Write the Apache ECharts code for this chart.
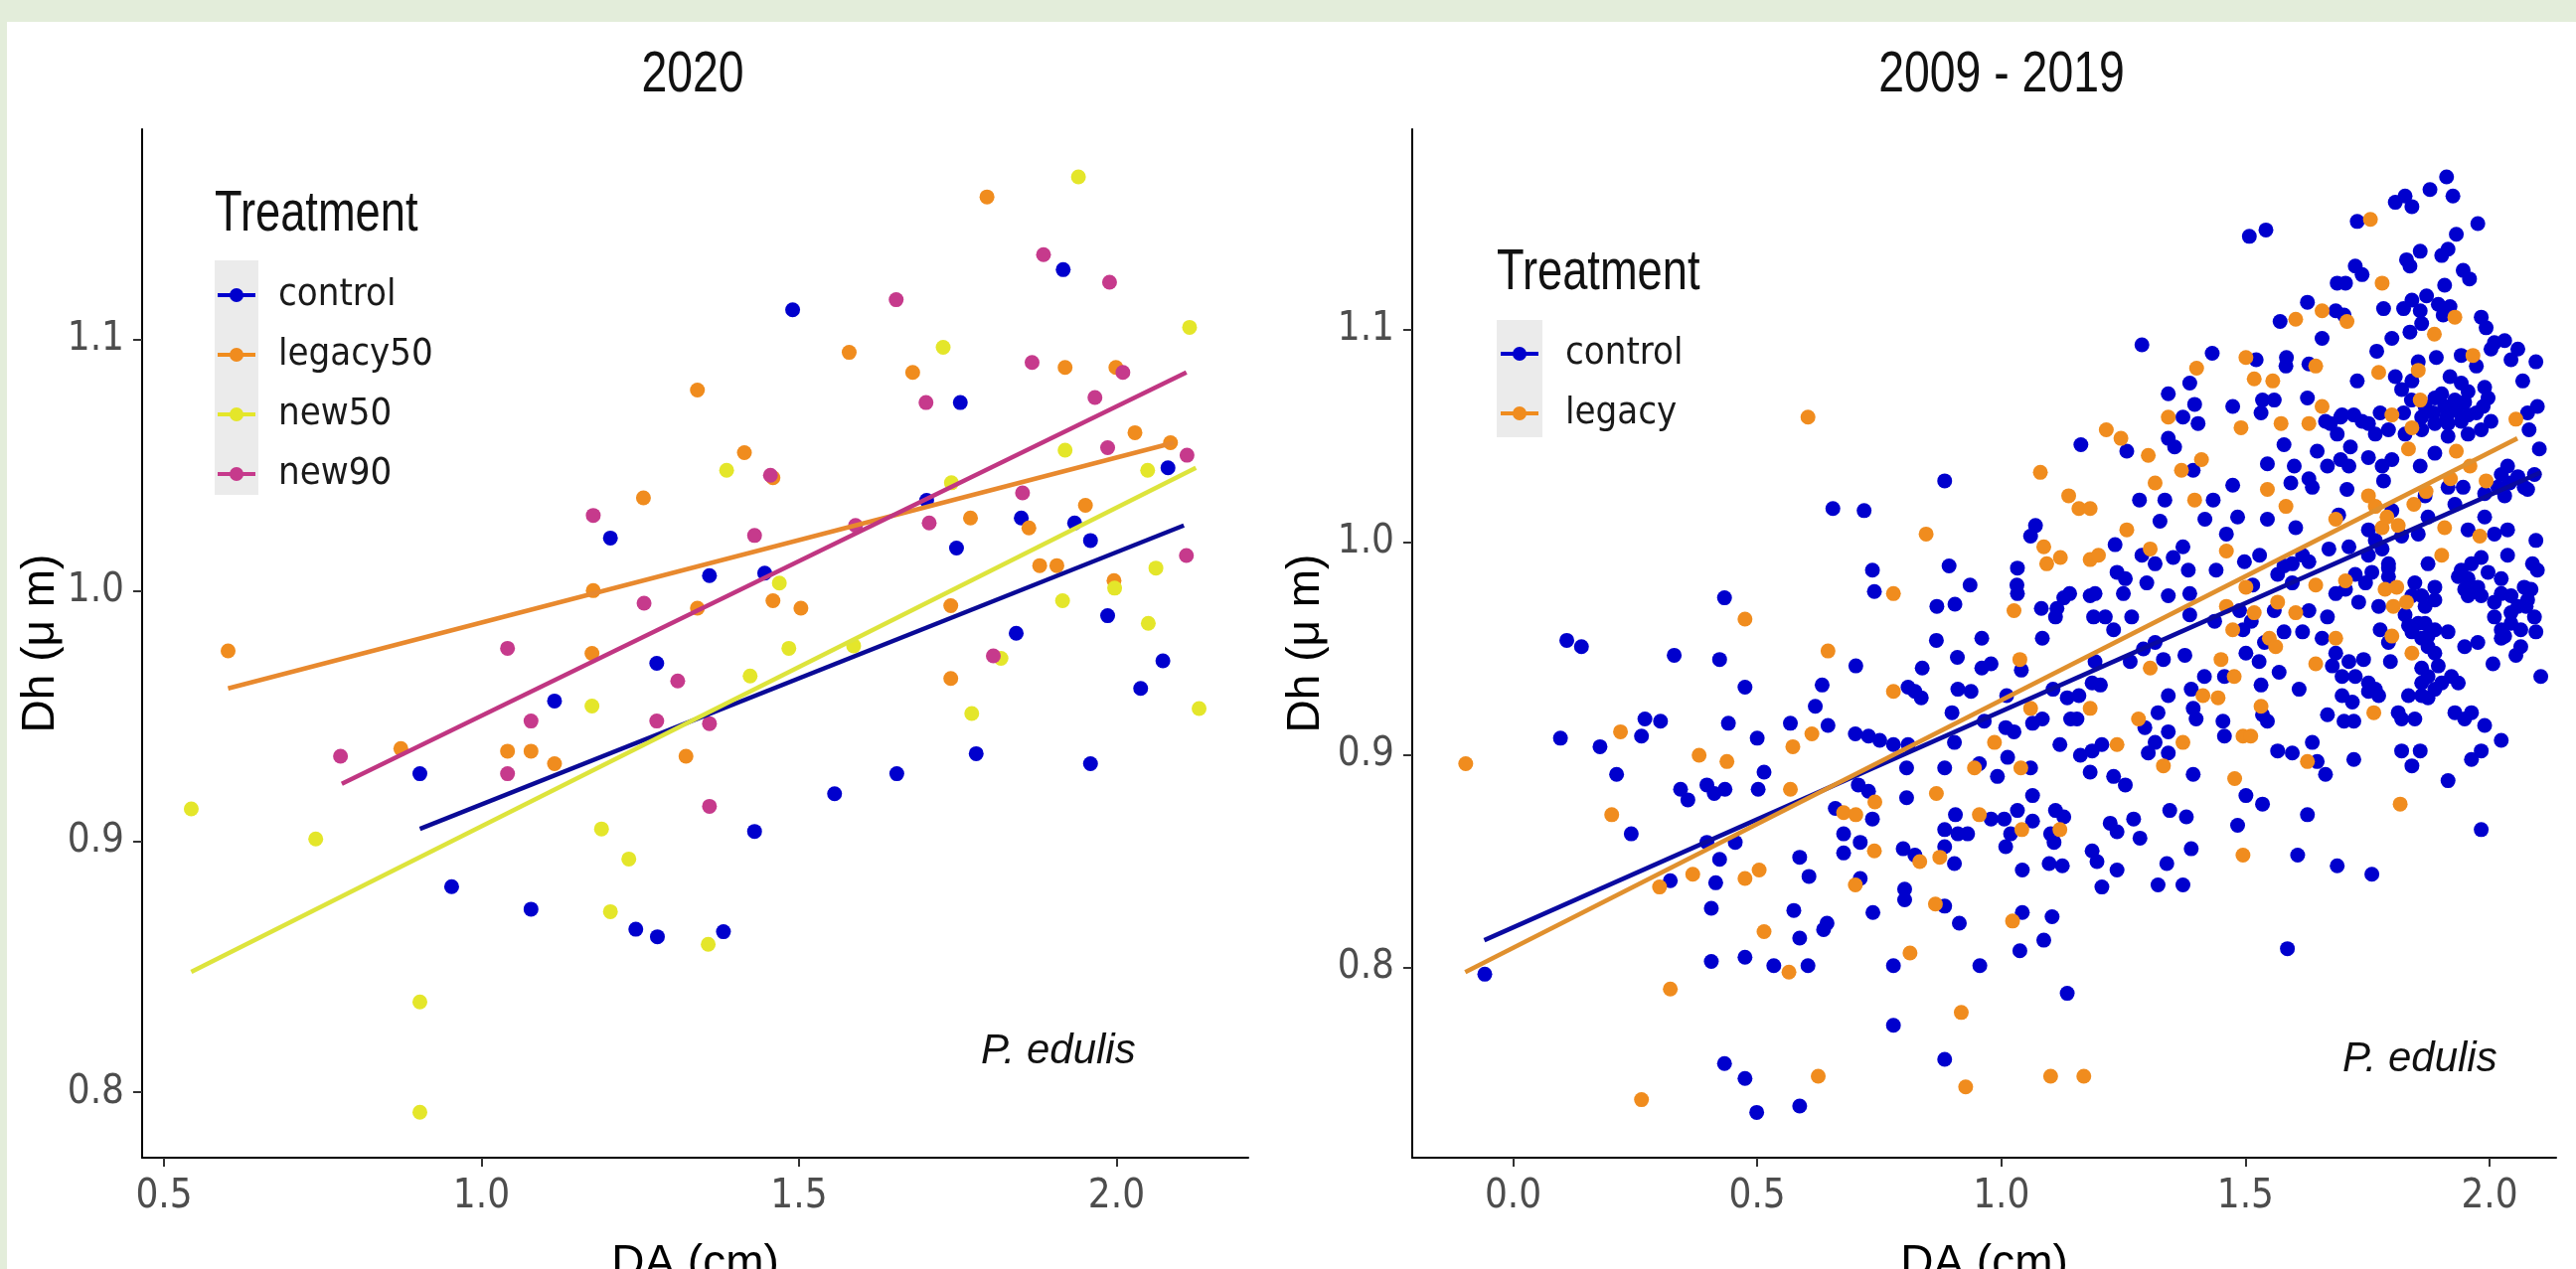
<!DOCTYPE html>
<html>
<head>
<meta charset="utf-8">
<script src="https://cdn.jsdelivr.net/npm/echarts@6/dist/echarts.min.js"></script>
<style>
html,body{margin:0;padding:0;background:#E3EDDA;}
#chart{width:2592px;height:1277px;}
</style>
</head>
<body>
<div id="chart"></div>
<script>
// ---------- tick labels ----------
const leftXTicks = [0.5, 1.0, 1.5, 2.0];
const leftYTicks = [0.8, 0.9, 1.0, 1.1];
const rightXTicks = [0.0, 0.5, 1.0, 1.5, 2.0];
const rightYTicks = [0.8, 0.9, 1.0, 1.1];

// ---------- panel 2020 ----------
const leftNames = ['control', 'legacy50', 'new50', 'new90'];
const leftControl = [[0.903,0.927],[0.953,0.882],[1.078,0.873],[1.115,0.956],[1.203,1.021],[1.243,0.865],[1.276,0.971],[1.277,0.862],[1.359,1.006],[1.381,0.864],[1.430,0.904],[1.446,1.007],[1.490,1.112],[1.556,0.919],[1.654,0.927],[1.701,1.036],[1.748,1.017],[1.754,1.075],[1.779,0.935],[1.842,0.983],[1.850,1.029],[1.916,1.128],[1.934,1.027],[1.959,1.020],[1.959,0.931],[1.986,0.990],[2.038,0.961],[2.073,0.972],[2.081,1.049]];
const leftLegacy50 = [[0.601,0.976],[0.873,0.937],[1.041,0.936],[1.078,0.936],[1.115,0.931],[1.174,0.975],[1.176,1.000],[1.255,1.037],[1.322,0.934],[1.340,1.080],[1.340,0.993],[1.414,1.055],[1.459,1.045],[1.459,0.996],[1.503,0.993],[1.579,1.095],[1.679,1.087],[1.739,0.994],[1.739,0.965],[1.770,1.029],[1.796,1.157],[1.862,1.025],[1.879,1.010],[1.906,1.010],[1.919,1.089],[1.951,1.034],[1.996,1.004],[1.999,1.089],[2.029,1.063],[2.085,1.059]];
const leftNew50 = [[0.543,0.913],[0.739,0.901],[0.903,0.836],[0.903,0.792],[1.174,0.954],[1.189,0.905],[1.203,0.872],[1.232,0.893],[1.357,0.859],[1.386,1.048],[1.423,0.966],[1.469,1.003],[1.484,0.977],[1.586,0.978],[1.727,1.097],[1.740,1.043],[1.772,0.951],[1.818,0.973],[1.915,0.996],[1.919,1.056],[1.940,1.165],[1.997,1.001],[2.049,1.048],[2.050,0.987],[2.062,1.009],[2.115,1.105],[2.130,0.953]];
const leftNew90 = [[0.778,0.934],[1.041,0.977],[1.041,0.927],[1.078,0.948],[1.176,1.030],[1.256,0.995],[1.276,0.948],[1.309,0.964],[1.359,0.947],[1.359,0.914],[1.430,1.022],[1.455,1.046],[1.589,1.026],[1.653,1.116],[1.700,1.075],[1.705,1.027],[1.806,0.974],[1.852,1.039],[1.867,1.091],[1.885,1.134],[1.966,1.077],[1.986,1.057],[1.989,1.123],[2.010,1.087],[2.110,1.014],[2.111,1.054]];
const leftFitControl = [[0.903,0.905],[2.106,1.026]];
const leftFitLegacy50 = [[0.601,0.961],[2.090,1.059]];
const leftFitNew50 = [[0.543,0.848],[2.125,1.049]];
const leftFitNew90 = [[0.780,0.923],[2.110,1.087]];

// ---------- panel 2009 - 2019 ----------
const rightNames = ['control', 'legacy'];
const rightControlA = [[0.433,0.974],[0.423,0.945],[0.330,0.947],[0.475,0.932],[0.110,0.954],[0.140,0.951],[0.441,0.915],[0.500,0.908],[0.097,0.908],[0.178,0.904],[0.270,0.917],[0.302,0.916],[0.263,0.909],[0.212,0.891],[0.343,0.884],[0.358,0.879],[0.397,0.886],[0.412,0.882],[0.434,0.884],[0.514,0.892],[0.502,0.884],[0.242,0.863],[0.397,0.859],[0.455,0.859],[0.423,0.851],[0.322,0.841],[0.415,0.840],[0.406,0.828],[0.406,0.803],[0.475,0.805],[0.534,0.801],[-0.058,0.797],[0.433,0.755],[0.475,0.748],[0.499,0.732]];
const rightControlB = [[1.163,1.046],[1.257,1.043],[1.283,1.020],[0.884,1.029],[0.655,1.016],[0.719,1.015],[1.070,1.008],[1.060,1.003],[0.736,0.987],[0.740,0.977],[0.893,0.989],[0.936,0.980],[1.033,0.988],[1.032,0.980],[1.033,0.976],[0.868,0.970],[0.905,0.971],[1.082,0.969],[1.114,0.969],[1.128,0.974],[1.140,0.976],[1.111,0.965],[1.182,0.975],[1.192,0.976],[1.189,0.965],[1.213,0.965],[1.230,0.959],[1.267,0.965],[1.233,0.999],[1.237,0.986],[1.254,0.983],[1.250,0.976],[0.867,0.954],[0.960,0.955],[1.084,0.955],[0.702,0.942],[0.910,0.946],[0.960,0.941],[0.979,0.943],[0.838,0.941],[1.041,0.940],[0.633,0.933],[0.809,0.932],[0.823,0.930],[0.836,0.927],[0.911,0.931],[0.938,0.930],[0.619,0.923],[0.568,0.915],[0.645,0.914],[0.899,0.920],[1.011,0.928],[1.106,0.931],[1.135,0.927],[1.159,0.928],[1.186,0.934],[1.203,0.933],[1.192,0.944],[1.264,0.944],[1.291,0.950],[0.701,0.910],[0.728,0.909],[0.751,0.907],[0.779,0.905],[0.809,0.905],[0.904,0.906],[0.965,0.916],[1.009,0.913],[1.026,0.911],[1.064,0.915],[1.084,0.917],[1.142,0.917],[1.155,0.917],[1.120,0.905],[1.162,0.900],[1.186,0.902],[1.206,0.905],[1.182,0.892],[0.806,0.894],[0.884,0.894],[0.955,0.896],[1.013,0.899],[0.992,0.890],[1.060,0.894],[1.230,0.890],[1.254,0.886],[0.707,0.886],[0.728,0.883]];
const rightControlC = [[0.806,0.880],[0.660,0.875],[0.736,0.870],[0.906,0.872],[1.064,0.881],[0.979,0.870],[1.006,0.870],[1.033,0.874],[1.064,0.869],[1.111,0.874],[1.128,0.871],[1.223,0.868],[1.271,0.870],[1.284,0.861],[0.884,0.865],[0.911,0.863],[0.931,0.863],[1.019,0.863],[1.101,0.863],[1.237,0.864],[0.677,0.863],[0.711,0.859],[0.677,0.854],[0.799,0.856],[0.823,0.853],[0.884,0.857],[0.904,0.849],[1.009,0.857],[1.108,0.859],[1.186,0.855],[1.196,0.850],[1.237,0.846],[1.098,0.849],[1.125,0.848],[1.043,0.846],[0.587,0.852],[0.606,0.843],[0.711,0.842],[0.802,0.837],[0.802,0.832],[1.206,0.838],[0.884,0.829],[0.914,0.821],[0.737,0.826],[0.575,0.827],[0.643,0.821],[0.636,0.818],[1.043,0.826],[1.104,0.824],[0.587,0.814],[1.087,0.813],[1.038,0.808],[0.604,0.801],[0.779,0.801],[0.956,0.801],[1.135,0.788],[0.779,0.773],[0.884,0.757],[0.587,0.735]];
const rightControlD = [[1.912,1.172],[1.925,1.163],[1.878,1.166],[1.807,1.160],[1.827,1.163],[1.841,1.158],[1.729,1.151],[1.976,1.150],[1.508,1.144],[1.542,1.147],[1.932,1.145],[1.915,1.138],[1.902,1.135],[1.858,1.137],[1.830,1.133],[1.837,1.130],[1.725,1.130],[1.739,1.126],[1.688,1.122],[1.705,1.122],[1.946,1.128],[1.959,1.124],[1.908,1.121],[1.627,1.113],[1.685,1.109],[1.702,1.107],[1.783,1.110],[1.824,1.110],[1.841,1.114],[1.871,1.116],[1.858,1.109],[1.895,1.112],[1.919,1.111],[1.905,1.107],[1.861,1.103],[1.837,1.099],[1.800,1.096],[1.571,1.104],[1.657,1.096],[1.983,1.106],[1.993,1.101],[2.010,1.094],[2.031,1.095],[2.058,1.091],[2.044,1.086],[2.095,1.085],[2.068,1.076],[2.003,1.091],[1.288,1.093],[1.432,1.089],[1.522,1.086],[1.584,1.087],[1.583,1.083],[1.630,1.084],[1.769,1.090],[1.854,1.085],[1.891,1.087],[1.942,1.088],[1.973,1.083],[1.729,1.076],[1.807,1.078],[1.919,1.078],[1.942,1.075],[1.956,1.071],[1.990,1.073],[1.997,1.068],[1.386,1.075],[1.342,1.070],[1.396,1.065],[1.474,1.064],[1.535,1.067],[1.559,1.067],[1.627,1.068],[1.820,1.072],[1.840,1.067],[1.888,1.068],[1.908,1.064],[1.949,1.066],[1.987,1.064],[2.098,1.064],[2.078,1.061],[1.372,1.059],[1.403,1.056],[1.532,1.061],[1.664,1.057],[1.695,1.059],[1.722,1.060],[1.752,1.056],[1.776,1.061],[1.824,1.061],[1.861,1.059],[1.885,1.061],[1.912,1.059],[1.932,1.062],[1.973,1.061],[2.003,1.057],[2.081,1.053],[2.102,1.044],[1.342,1.049],[1.355,1.045],[1.579,1.046],[1.647,1.043],[1.674,1.056],[1.688,1.051],[1.715,1.045],[1.766,1.051],[1.793,1.053],[1.827,1.051],[1.861,1.053],[1.888,1.056],[1.915,1.050],[1.956,1.051],[1.983,1.053],[1.393,1.034],[1.474,1.027],[1.545,1.037],[1.600,1.036],[1.630,1.030],[1.668,1.036],[1.695,1.039],[1.712,1.036],[1.752,1.040],[1.780,1.036],[1.800,1.039],[1.858,1.036],[1.888,1.042],[1.946,1.026],[2.024,1.032],[2.041,1.028],[2.071,1.026],[1.335,1.020],[1.434,1.020],[1.593,1.028],[1.637,1.026],[1.708,1.025],[1.783,1.029],[1.868,1.022],[1.915,1.026],[1.990,1.023],[2.017,1.026]];
const rightControlE = [[1.325,1.010],[1.417,1.011],[1.484,1.012],[1.461,1.004],[1.545,1.011],[1.603,1.007],[1.691,1.013],[1.752,1.006],[1.800,1.015],[1.820,1.003],[1.854,1.004],[1.874,1.012],[1.929,1.018],[1.990,1.012],[1.956,1.006],[2.010,1.004],[2.037,1.006],[2.095,1.001],[1.288,0.994],[1.372,0.998],[1.352,0.993],[1.315,0.990],[1.383,0.987],[1.440,0.987],[1.498,0.991],[1.529,0.994],[1.579,0.989],[1.630,0.991],[1.671,0.997],[1.712,0.998],[1.752,0.994],[1.793,0.990],[1.874,0.990],[1.963,0.990],[1.983,0.993],[2.037,0.994],[2.088,0.990],[2.098,0.987],[1.298,0.981],[1.342,0.975],[1.386,0.976],[1.515,0.980],[1.566,0.985],[1.596,0.981],[1.685,0.976],[1.725,0.985],[1.746,0.981],[1.793,0.984],[1.847,0.981],[1.888,0.979],[1.936,0.984],[1.949,0.978],[1.997,0.986],[2.024,0.983],[2.071,0.979],[2.078,0.973],[1.386,0.966],[1.437,0.963],[1.488,0.968],[1.512,0.963],[1.559,0.968],[1.630,0.968],[1.668,0.965],[1.732,0.972],[1.773,0.970],[1.827,0.966],[1.868,0.970],[1.888,0.973],[1.956,0.975],[2.010,0.965],[2.044,0.967],[2.075,0.970],[2.092,0.965],[2.024,0.959],[2.095,0.958],[1.315,0.953],[1.332,0.945],[1.376,0.947],[1.495,0.959],[1.539,0.953],[1.579,0.958],[1.617,0.958],[1.657,0.955],[1.685,0.948],[1.712,0.944],[1.742,0.945],[1.776,0.959],[1.793,0.953],[1.841,0.958],[1.868,0.962],[1.874,0.951],[1.915,0.958],[1.888,0.948],[1.949,0.951],[1.976,0.953],[2.024,0.955],[2.064,0.951],[2.054,0.947],[2.007,0.943],[2.105,0.937],[1.501,0.948],[1.528,0.944],[1.569,0.939],[1.610,0.931],[1.457,0.937],[1.416,0.937],[1.389,0.931],[1.342,0.928],[1.532,0.933],[1.678,0.942],[1.725,0.937],[1.752,0.934],[1.773,0.928],[1.797,0.944],[1.861,0.941],[1.895,0.942],[1.922,0.937],[1.936,0.934],[1.861,0.934],[1.834,0.928],[1.874,0.927],[1.393,0.922],[1.321,0.920],[1.294,0.913],[1.342,0.911],[1.399,0.917],[1.454,0.916],[1.535,0.919],[1.545,0.916],[1.698,0.928],[1.719,0.925],[1.668,0.919],[1.702,0.916],[1.722,0.916],[1.813,0.920],[1.820,0.917],[1.847,0.917],[1.929,0.920],[1.949,0.917],[1.963,0.920],[1.990,0.914],[2.024,0.907],[1.457,0.909],[1.315,0.906],[1.342,0.901],[1.301,0.901],[1.566,0.902],[1.596,0.901],[1.637,0.906],[1.664,0.891],[1.647,0.897],[1.722,0.898],[1.820,0.902],[1.858,0.902],[1.841,0.895],[1.983,0.902],[1.963,0.898],[1.393,0.891],[1.915,0.888],[1.501,0.881],[1.535,0.877],[1.345,0.874],[1.379,0.871],[1.627,0.872],[1.484,0.867],[1.983,0.865],[1.389,0.856],[1.607,0.853],[1.339,0.849],[1.688,0.848],[1.759,0.844],[1.321,0.839],[1.372,0.839],[1.586,0.809]];
const rightControlF = [[1.841,0.975],[1.861,0.975],[1.854,0.962],[1.834,0.961],[1.874,0.956],[1.888,0.959],[1.861,0.955],[2.024,0.976],[2.044,0.975],[2.058,0.970],[2.044,0.962],[2.064,0.959],[2.085,0.978],[2.010,0.972],[2.031,0.956],[1.956,0.983],[1.976,0.979],[1.942,0.987],[1.983,0.975],[1.766,1.001],[1.780,0.997],[1.793,0.988],[1.759,0.986],[1.874,0.937],[1.888,0.931],[1.861,0.928],[1.902,0.934],[1.698,0.937],[1.752,0.930],[1.766,0.931],[1.596,0.990],[1.617,0.994],[1.705,0.978],[1.902,1.070],[1.929,1.067],[1.956,1.060],[1.915,1.056],[1.942,1.057],[2.037,1.036],[2.058,1.031],[2.078,1.025],[2.092,1.032],[2.031,1.022],[1.841,1.076],[1.868,1.064],[1.698,1.060],[1.739,1.057]];
const rightLegacyA = [[-0.097,0.896],[0.475,0.964],[0.220,0.911],[0.381,0.900],[0.438,0.897],[0.202,0.872],[0.300,0.838],[0.368,0.844],[0.475,0.842],[0.504,0.846],[0.514,0.817],[0.322,0.790],[0.263,0.738]];
const rightLegacyB = [[0.604,1.059],[1.080,1.033],[1.215,1.053],[1.245,1.049],[1.138,1.022],[1.159,1.016],[1.182,1.016],[1.257,1.006],[0.846,1.004],[1.087,0.998],[1.121,0.993],[1.093,0.990],[1.182,0.992],[1.199,0.994],[0.779,0.976],[1.026,0.968],[0.645,0.949],[1.038,0.945],[0.779,0.930],[0.612,0.910],[0.573,0.904],[1.060,0.922],[1.182,0.922],[0.986,0.906],[1.237,0.905],[1.040,0.894],[0.945,0.894],[0.568,0.884],[1.281,0.917]];
const rightLegacyC = [[0.867,0.882],[0.741,0.878],[0.677,0.873],[0.702,0.872],[0.955,0.872],[1.042,0.865],[1.120,0.865],[0.740,0.855],[0.833,0.850],[0.874,0.852],[0.701,0.839],[0.865,0.830],[1.023,0.822],[0.813,0.807],[0.565,0.798],[0.918,0.779],[0.625,0.749],[0.927,0.744],[1.101,0.749],[1.169,0.749]];
const rightLegacyD = [[1.756,1.152],[1.780,1.122],[1.603,1.105],[1.657,1.109],[1.708,1.104],[1.929,1.106],[1.887,1.098],[1.400,1.082],[1.501,1.087],[1.644,1.083],[1.518,1.077],[1.556,1.076],[1.773,1.080],[1.854,1.081],[1.966,1.088],[1.342,1.059],[1.491,1.054],[1.573,1.056],[1.630,1.056],[1.657,1.064],[1.800,1.060],[1.858,1.067],[2.054,1.058],[1.301,1.041],[1.369,1.034],[1.410,1.039],[1.315,1.028],[1.396,1.020],[1.545,1.025],[1.834,1.044],[1.932,1.043],[1.993,1.029],[1.752,1.022],[1.841,1.054]];
const rightLegacyE = [[1.583,1.017],[1.766,1.017],[1.685,1.011],[1.780,1.007],[1.813,1.008],[1.908,1.007],[1.980,1.003],[1.461,0.996],[1.305,0.997],[1.902,0.994],[1.644,0.980],[1.705,0.982],[1.786,0.978],[1.810,0.979],[1.803,0.970],[1.830,0.972],[1.501,0.979],[1.461,0.970],[1.566,0.972],[1.603,0.967],[1.518,0.967],[1.474,0.959],[1.549,0.955],[1.562,0.951],[1.685,0.955],[1.800,0.956],[1.841,0.948],[1.305,0.941],[1.450,0.945],[1.644,0.943],[1.477,0.937],[1.413,0.928],[1.444,0.927],[1.532,0.923],[1.763,0.920],[1.372,0.906],[1.495,0.909],[1.511,0.909],[1.332,0.895],[1.627,0.897],[1.478,0.889],[1.817,0.877],[1.495,0.853],[1.845,1.018],[1.870,1.024],[1.790,1.012],[1.920,1.030],[1.960,1.036]];
const rightFitControl = [[-0.059,0.813],[2.105,1.033]];
const rightFitLegacy = [[-0.098,0.798],[2.057,1.049]];

// ---------- build ----------
const FONT_N = "'Liberation Sans Narrow','Arial Narrow','DejaVu Sans Condensed','Liberation Sans',sans-serif";
const FONT = "'Liberation Sans',Arial,sans-serif";
const BLUE = '#0000CD', ORANGE = '#F08C1E', YELLOW = '#E4E62A', MAGENTA = '#C63A8C';
const ICON = 'path://M0,5 L38,5 L38,9 L0,9 Z M26,7 A7,7 0 1 1 12,7 A7,7 0 1 1 26,7 Z';

const chart = echarts.init(document.getElementById('chart'), null, {renderer: 'canvas'});

function xAxisDef(grid, min, max, ticks) {
  return {
    gridIndex: grid, type: 'value', min: min, max: max,
    axisLine: {show: true, onZero: false, lineStyle: {color: '#000', width: 2}},
    axisTick: {show: true, length: 9, customValues: ticks, lineStyle: {color: '#333', width: 2}},
    axisLabel: {customValues: ticks, formatter: v => v.toFixed(1), fontFamily: FONT_N, fontSize: 40, color: '#4D4D4D', margin: 20},
    splitLine: {show: false},
    name: 'DA (cm)', nameLocation: 'middle', nameGap: 84,
    nameTextStyle: {fontFamily: FONT, fontSize: 46, color: '#000'}
  };
}
function yAxisDef(grid, min, max, ticks, gap) {
  return {
    gridIndex: grid, type: 'value', min: min, max: max,
    axisLine: {show: true, onZero: false, lineStyle: {color: '#000', width: 2}},
    axisTick: {show: true, length: 9, customValues: ticks, lineStyle: {color: '#333', width: 2}},
    axisLabel: {customValues: ticks, formatter: v => v.toFixed(1), fontFamily: FONT_N, fontSize: 40, color: '#4D4D4D', margin: 18},
    splitLine: {show: false},
    name: 'Dh (\u03bc m)', nameLocation: 'middle', nameGap: gap,
    nameTextStyle: {fontFamily: FONT, fontSize: 46, color: '#000'}
  };
}
function scatter(name, data, color, xi) {
  return {type: 'scatter', name: name, data: data, xAxisIndex: xi, yAxisIndex: xi,
    symbol: 'circle', symbolSize: 15, itemStyle: {color: color, opacity: 1}, z: 2, silent: true};
}
function fit(name, data, color, xi) {
  return {type: 'line', name: name, data: data, xAxisIndex: xi, yAxisIndex: xi,
    showSymbol: false, symbol: 'none', lineStyle: {color: color, width: 4.5}, z: 5, silent: true};
}
function label(text, x, y, size, sx, align, extra) {
  return {type: 'text', x: x, y: y, scaleX: sx, scaleY: 1, z: 10,
    style: {text: text, fill: '#111', font: (extra || '') + size + 'px ' + FONT,
      textAlign: align, textVerticalAlign: 'middle', align: align, verticalAlign: 'middle'}};
}

const option = {
  backgroundColor: '#E3EDDA',
  animation: false,
  grid: [
    {left: 143, top: 130, width: 1113, height: 1035, outerBoundsMode: 'none', containLabel: false},
    {left: 1421, top: 130, width: 1151, height: 1035, outerBoundsMode: 'none', containLabel: false}
  ],
  xAxis: [xAxisDef(0, 0.4656, 2.2074, leftXTicks), xAxisDef(1, -0.2066, 2.1364, rightXTicks)],
  yAxis: [yAxisDef(0, 0.7739, 1.184, leftYTicks, 78), yAxisDef(1, 0.7107, 1.1944, rightYTicks, 84)],
  legend: [
    {data: leftNames, orient: 'vertical', left: 219, top: 277, padding: 0,
     itemWidth: 38, itemHeight: 14, itemGap: 20, icon: ICON, selectedMode: false,
     textStyle: {fontFamily: FONT_N, fontSize: 38, color: '#1A1A1A', lineHeight: 40, padding: [0, 0, 0, 18]}},
    {data: rightNames, orient: 'vertical', left: 1510, top: 336, padding: 0,
     itemWidth: 38, itemHeight: 14, itemGap: 20, icon: ICON, selectedMode: false,
     textStyle: {fontFamily: FONT_N, fontSize: 38, color: '#1A1A1A', lineHeight: 40, padding: [0, 0, 0, 22]}}
  ],
  graphic: [
    {type: 'rect', z: -100, shape: {x: 7, y: 22, width: 2585, height: 1255}, style: {fill: '#FFFFFF'}, silent: true},
    {type: 'rect', z: -50, shape: {x: 216, y: 262, width: 44, height: 236}, style: {fill: '#EBEBEB'}, silent: true},
    {type: 'rect', z: -50, shape: {x: 1506, y: 322, width: 46, height: 118}, style: {fill: '#EBEBEB'}, silent: true},
    label('2020', 697, 76, 58, 0.8, 'center'),
    label('2009 - 2019', 2014, 76, 58, 0.8, 'center'),
    label('Treatment', 216, 216, 58, 0.78, 'left'),
    label('Treatment', 1506, 275, 58, 0.78, 'left'),
    label('P. edulis', 987, 1058, 42, 1, 'left', 'italic '),
    label('P. edulis', 2357, 1066, 42, 1, 'left', 'italic ')
  ],
  series: [
    scatter('control', leftControl, BLUE, 0),
    scatter('legacy50', leftLegacy50, ORANGE, 0),
    scatter('new50', leftNew50, YELLOW, 0),
    scatter('new90', leftNew90, MAGENTA, 0),
    fit('control fit', leftFitControl, '#0A0A96', 0),
    fit('legacy50 fit', leftFitLegacy50, '#E8892E', 0),
    fit('new50 fit', leftFitNew50, '#DDE43C', 0),
    fit('new90 fit', leftFitNew90, '#C03682', 0),
    scatter('control', [].concat(rightControlA, rightControlB, rightControlC, rightControlD, rightControlE, rightControlF), BLUE, 1),
    scatter('legacy', [].concat(rightLegacyA, rightLegacyB, rightLegacyC, rightLegacyD, rightLegacyE), ORANGE, 1),
    fit('control fit R', rightFitControl, '#0A0AA0', 1),
    fit('legacy fit R', rightFitLegacy, '#E0902E', 1)
  ]
};
chart.setOption(option);
</script>
</body>
</html>
